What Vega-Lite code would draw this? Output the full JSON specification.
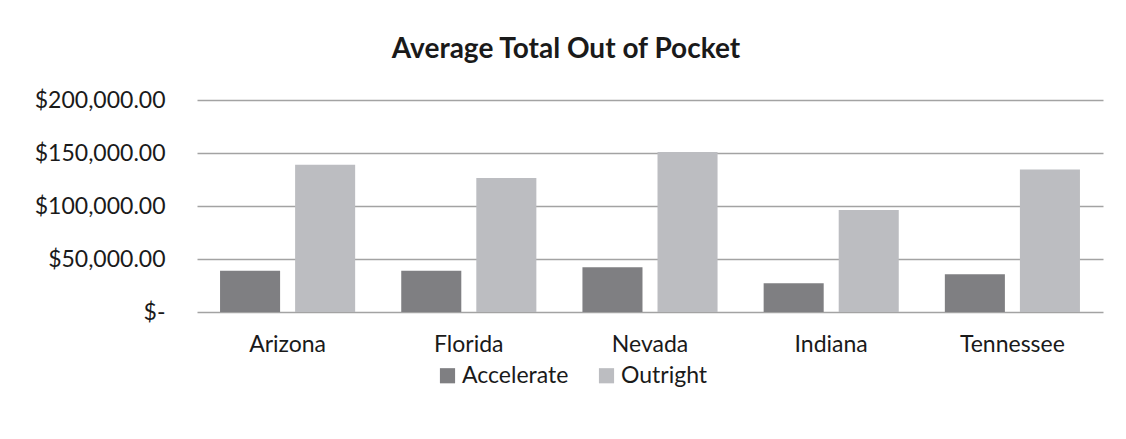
{
  "$schema": "https://vega.github.io/schema/vega-lite/v6.json",
  "width": 906,
  "height": 212,
  "autosize": {"type": "none"},
  "padding": {"left": 197, "top": 100, "right": 23, "bottom": 127},
  "background": "white",
  "title": {
    "text": "Average Total Out of Pocket",
    "font": "Lato",
    "fontSize": 28,
    "fontWeight": "bold",
    "color": "#1a1a1a",
    "anchor": "middle",
    "dx": -84,
    "offset": 25
  },
  "data": {
    "values": [
      {"state": "Arizona", "type": "Accelerate", "value": 39000},
      {"state": "Arizona", "type": "Outright", "value": 139000},
      {"state": "Florida", "type": "Accelerate", "value": 38800},
      {"state": "Florida", "type": "Outright", "value": 126300},
      {"state": "Nevada", "type": "Accelerate", "value": 42300},
      {"state": "Nevada", "type": "Outright", "value": 151000},
      {"state": "Indiana", "type": "Accelerate", "value": 27200},
      {"state": "Indiana", "type": "Outright", "value": 96300},
      {"state": "Tennessee", "type": "Accelerate", "value": 35700},
      {"state": "Tennessee", "type": "Outright", "value": 134500}
    ]
  },
  "mark": {"type": "bar"},
  "encoding": {
    "x": {
      "field": "state",
      "type": "nominal",
      "sort": ["Arizona", "Florida", "Nevada", "Indiana", "Tennessee"],
      "scale": {"paddingInner": 0, "paddingOuter": 0},
      "axis": {
        "title": null,
        "labelAngle": 0,
        "labelFont": "Lato",
        "labelFontSize": 23,
        "labelColor": "#1a1a1a",
        "labelPadding": 21,
        "ticks": false,
        "domain": false
      }
    },
    "xOffset": {
      "field": "type",
      "type": "nominal",
      "scale": {"paddingInner": 0.2, "paddingOuter": 0.307}
    },
    "y": {
      "field": "value",
      "type": "quantitative",
      "scale": {"domain": [0, 200000], "nice": false},
      "axis": {
        "title": null,
        "values": [0, 50000, 100000, 150000, 200000],
        "labelExpr": "datum.value == 0 ? '$-' : '$' + format(datum.value, ',.2f')",
        "labelFont": "Lato",
        "labelFontSize": 23,
        "labelColor": "#1a1a1a",
        "labelPadding": 32,
        "ticks": false,
        "domain": false,
        "grid": true,
        "gridColor": "#a3a3a3",
        "gridWidth": 1.5
      }
    },
    "color": {
      "field": "type",
      "type": "nominal",
      "scale": {"domain": ["Accelerate", "Outright"], "range": ["#7f7f82", "#bcbdc1"]},
      "legend": {
        "title": null,
        "orient": "none",
        "direction": "horizontal",
        "legendX": 239,
        "legendY": 264,
        "symbolType": "square",
        "symbolSize": 230,
        "symbolStrokeWidth": 0,
        "labelFont": "Lato",
        "labelFontSize": 23,
        "labelColor": "#1a1a1a",
        "labelOffset": 3,
        "columnPadding": 26
      }
    }
  },
  "config": {"view": {"stroke": null}}
}
